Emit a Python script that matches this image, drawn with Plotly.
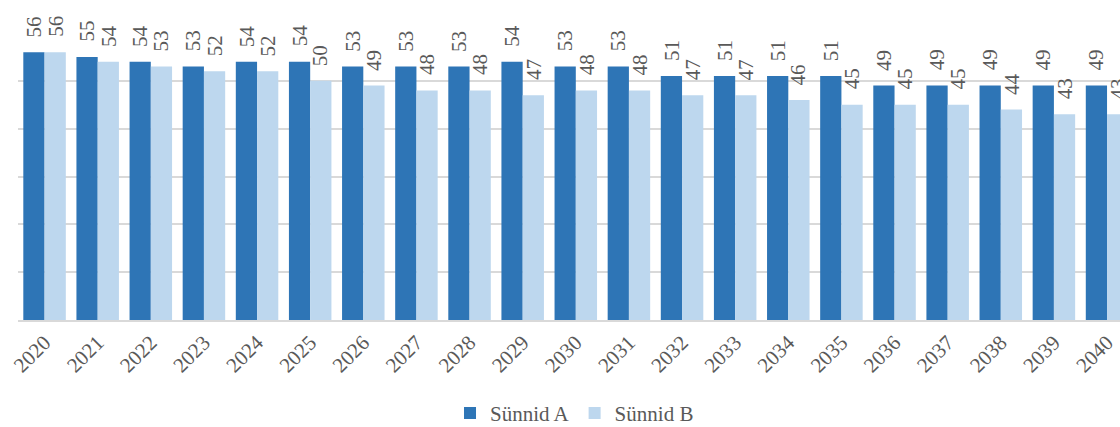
import plotly.graph_objects as go

years = [str(y) for y in range(2020, 2041)]
sunnid_a = [56, 55, 54, 53, 54, 54, 53, 53, 53, 54, 53, 53, 51, 51, 51, 51, 49, 49, 49, 49, 49]
sunnid_b = [56, 54, 53, 52, 52, 50, 49, 48, 48, 47, 48, 48, 47, 47, 46, 45, 45, 45, 44, 43, 43]
series_names = ["Sünnid A", "Sünnid B"]
colors = ["#2E75B6", "#BDD7EE"]

FONT = "Liberation Serif"
GREY = "#595959"

fig = go.Figure()
for name, vals, col in zip(series_names, [sunnid_a, sunnid_b], colors):
    fig.add_trace(go.Bar(x=years, y=vals, name=name, marker=dict(color=col, line=dict(width=0))))

annotations = []
for offs, vals in [(-0.2, sunnid_a), (0.2, sunnid_b)]:
    for i, v in enumerate(vals):
        annotations.append(dict(
            x=i + offs, y=v, xref="x", yref="y", text=str(v), showarrow=False,
            textangle=-90, yanchor="bottom", xanchor="center", yshift=13,
            font=dict(family=FONT, size=21, color=GREY),
        ))

fig.update_layout(
    width=1120, height=427,
    margin=dict(l=18, r=0, t=33, b=107, autoexpand=False),
    paper_bgcolor="white", plot_bgcolor="white",
    barmode="group", bargap=0.2, bargroupgap=0,
    font=dict(family=FONT, color=GREY),
    annotations=annotations,
    legend=dict(orientation="h", x=0.505, xanchor="center", yref="container", y=0.032, yanchor="middle",
                font=dict(family=FONT, size=21, color=GREY), traceorder="normal"),
    showlegend=True,
)
fig.update_xaxes(type="category", range=[-0.5, 20.244], tickangle=-45, automargin=False,
                 tickfont=dict(family=FONT, size=21, color=GREY),
                 showline=True, linecolor="#D9D9D9", linewidth=2, ticks="", showgrid=False)
fig.update_yaxes(range=[0, 60], dtick=10, showticklabels=False, showgrid=True, automargin=False,
                 gridcolor="#D9D9D9", gridwidth=1.5, zeroline=False)

fig.write_html("out.html", config={"displayModeBar": False},
               post_script="document.body.style.margin='0';document.body.style.overflow='hidden';")
